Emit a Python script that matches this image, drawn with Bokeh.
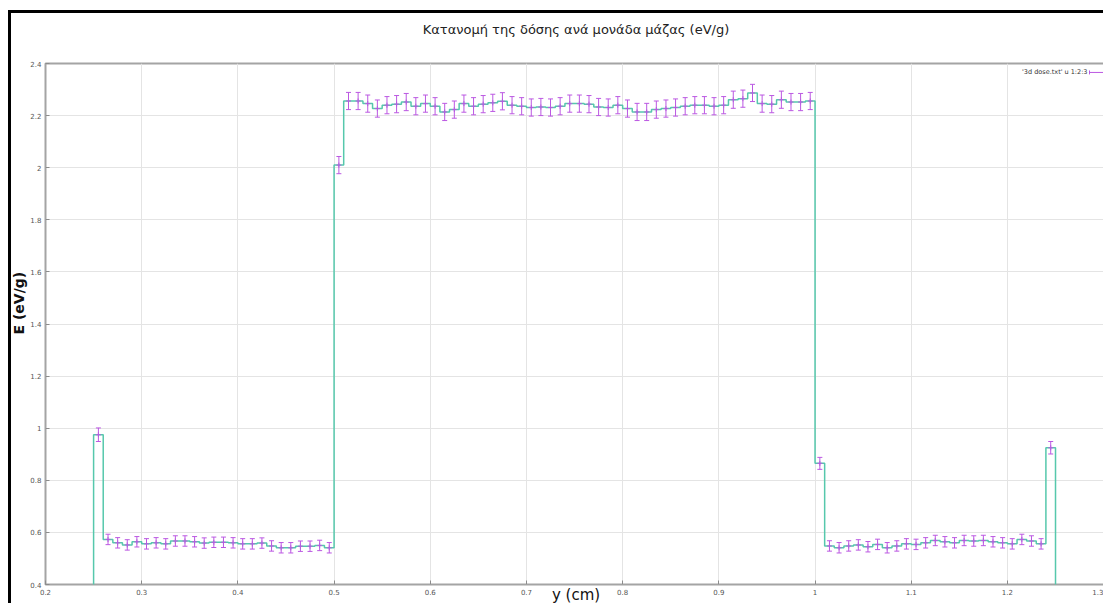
import numpy as np
from bokeh.plotting import figure
from bokeh.models import (Range1d, FixedTicker, CustomJSTickFormatter, Label,
                          Whisker, TeeHead, ColumnDataSource, Title)
from bokeh.embed import file_html
from bokeh.resources import INLINE

TITLE = "Κατανομή της δόσης ανά μονάδα μάζας (eV/g)"
X_LABEL = "y (cm)"
Y_LABEL = "E (eV/g)"
SERIES_LABEL = "'3d dose.txt' u 1:2:3"

x_ticks = [0.2, 0.3, 0.4, 0.5, 0.6, 0.7, 0.8, 0.9, 1.0, 1.1, 1.2, 1.3]
y_ticks = [0.4, 0.6, 0.8, 1.0, 1.2, 1.4, 1.6, 1.8, 2.0, 2.2, 2.4]

# bin centres (cm)
position_cm = [
    0.255,
    0.265, 0.275, 0.285, 0.295, 0.305, 0.315, 0.325, 0.335, 0.345, 0.355,
    0.365, 0.375, 0.385, 0.395, 0.405, 0.415, 0.425, 0.435, 0.445, 0.455,
    0.465, 0.475, 0.485, 0.495,
    0.505,
    0.515, 0.525, 0.535, 0.545, 0.555, 0.565, 0.575, 0.585, 0.595, 0.605,
    0.615, 0.625, 0.635, 0.645, 0.655, 0.665, 0.675, 0.685, 0.695, 0.705,
    0.715, 0.725, 0.735, 0.745, 0.755, 0.765, 0.775, 0.785, 0.795, 0.805,
    0.815, 0.825, 0.835, 0.845, 0.855, 0.865, 0.875, 0.885, 0.895, 0.905,
    0.915, 0.925, 0.935, 0.945, 0.955, 0.965, 0.975, 0.985, 0.995,
    1.005,
    1.015, 1.025, 1.035, 1.045, 1.055, 1.065, 1.075, 1.085, 1.095, 1.105,
    1.115, 1.125, 1.135, 1.145, 1.155, 1.165, 1.175, 1.185, 1.195, 1.205,
    1.215, 1.225, 1.235,
    1.245,
]

# dose per unit mass (eV/g)
dose = [
    0.975,
    0.573, 0.560, 0.552, 0.564, 0.556, 0.560, 0.556, 0.567, 0.567, 0.564,
    0.559, 0.562, 0.562, 0.560, 0.556, 0.556, 0.559, 0.548, 0.541, 0.541,
    0.547, 0.547, 0.550, 0.541,
    2.010,
    2.256, 2.256, 2.246, 2.227, 2.240, 2.244, 2.252, 2.236, 2.246, 2.236,
    2.214, 2.223, 2.246, 2.236, 2.244, 2.249, 2.255, 2.240, 2.236, 2.231,
    2.233, 2.231, 2.236, 2.246, 2.246, 2.244, 2.233, 2.231, 2.240, 2.227,
    2.214, 2.214, 2.223, 2.227, 2.231, 2.236, 2.240, 2.240, 2.236, 2.240,
    2.261, 2.265, 2.287, 2.246, 2.244, 2.261, 2.252, 2.252, 2.256,
    0.865,
    0.548, 0.541, 0.548, 0.552, 0.545, 0.554, 0.541, 0.548, 0.556, 0.554,
    0.560, 0.569, 0.564, 0.560, 0.569, 0.567, 0.569, 0.564, 0.560, 0.556,
    0.573, 0.567, 0.556,
    0.925,
]

# statistical uncertainty of each bin (eV/g)
dose_err = [
    0.026,
    0.020, 0.020, 0.020, 0.020, 0.020, 0.020, 0.020, 0.020, 0.020, 0.020,
    0.020, 0.020, 0.020, 0.020, 0.020, 0.020, 0.020, 0.020, 0.020, 0.020,
    0.020, 0.020, 0.020, 0.020,
    0.033,
    0.033, 0.033, 0.033, 0.033, 0.033, 0.033, 0.033, 0.033, 0.033, 0.033,
    0.033, 0.033, 0.033, 0.033, 0.033, 0.033, 0.033, 0.033, 0.033, 0.033,
    0.033, 0.033, 0.033, 0.033, 0.033, 0.033, 0.033, 0.033, 0.033, 0.033,
    0.033, 0.033, 0.033, 0.033, 0.033, 0.033, 0.033, 0.033, 0.033, 0.033,
    0.033, 0.033, 0.033, 0.033, 0.033, 0.033, 0.033, 0.033, 0.033,
    0.023,
    0.020, 0.020, 0.020, 0.020, 0.020, 0.020, 0.020, 0.020, 0.020, 0.020,
    0.020, 0.020, 0.020, 0.020, 0.020, 0.020, 0.020, 0.020, 0.020, 0.020,
    0.020, 0.020, 0.020,
    0.024,
]

ERR_COLOR = "#bb58e2"
STEP_COLOR = "#56c8ac"
FONT = "DejaVu Sans"

X_MIN, X_MAX = 0.2, 1.303
Y_MIN, Y_MAX = 0.4, 2.4

# page geometry (pixels)
FRAME_LEFT, FRAME_RIGHT = 45, 1106
FRAME_TOP, FRAME_BOTTOM = 63, 587
PX_X = (FRAME_RIGHT - FRAME_LEFT) / (X_MAX - X_MIN)
PX_Y = (FRAME_BOTTOM - FRAME_TOP) / (Y_MAX - Y_MIN)


def dx(px):
    return X_MIN + (px - FRAME_LEFT) / PX_X


def dy(py):
    return Y_MIN + (FRAME_BOTTOM - py) / PX_Y


x = np.array(position_cm)
y = np.array(dose)
e = np.array(dose_err)

# outer black frame of the window
OFF_L, OFF_T, BORDER = 8, 10, 3
W = 1106 - OFF_L - BORDER
H = 606 - OFF_T - BORDER

p = figure(width=W, height=H, output_backend="svg", toolbar_location=None,
           title_location=None,
           x_range=Range1d(X_MIN, X_MAX), y_range=Range1d(Y_MIN, Y_MAX),
           min_border_left=FRAME_LEFT - OFF_L - BORDER, min_border_right=0,
           min_border_top=FRAME_TOP - OFF_T - BORDER,
           min_border_bottom=606 - FRAME_BOTTOM)
p.styles = {"margin-left": f"{OFF_L}px", "margin-top": f"{OFF_T}px",
            "border-left": f"{BORDER}px solid black",
            "border-top": f"{BORDER}px solid black"}
p.background_fill_color = "white"
p.border_fill_color = "white"
p.outline_line_color = "#a4a4a4"
p.outline_line_width = 2

fmt = CustomJSTickFormatter(code="return String(Math.round(tick * 10) / 10);")
for ax in (p.xaxis[0], p.yaxis[0]):
    ax.axis_line_color = None
    ax.major_tick_in = 4
    ax.major_tick_out = 0
    ax.major_tick_line_color = "#8c8c8c"
    ax.minor_tick_line_color = None
    ax.major_label_text_font = FONT
    ax.major_label_text_font_size = "7px"
    ax.major_label_text_color = "#555555"
    ax.major_label_standoff = 4
    ax.formatter = fmt
p.xaxis[0].ticker = FixedTicker(ticks=x_ticks)
p.yaxis[0].ticker = FixedTicker(ticks=y_ticks)
p.grid.grid_line_color = "#e4e4e4"
p.grid.grid_line_width = 1

# x axis name tucked up between the tick labels
p.xaxis[0].axis_label = X_LABEL
p.xaxis[0].axis_label_text_font = FONT
p.xaxis[0].axis_label_text_font_size = "15px"
p.xaxis[0].axis_label_text_font_style = "normal"
p.xaxis[0].axis_label_text_color = "#111111"
p.xaxis[0].axis_label_standoff = -12

# histogram steps, closed down to the baseline at both ends
BASE = 0.0
mid = (x[1:] + x[:-1]) / 2
edges = np.concatenate([[x[0] - (x[1] - x[0]) / 2], mid,
                        [x[-1] + (x[-1] - x[-2]) / 2]])
step_x = np.repeat(edges, 2)
step_y = np.concatenate([[BASE], np.repeat(y, 2), [BASE]])
p.line(step_x, step_y, line_color=STEP_COLOR, line_width=1.5)

# error bars with point markers
src = ColumnDataSource(dict(x=x, y=y, lo=y - e, hi=y + e))
p.add_layout(Whisker(source=src, base="x", lower="lo", upper="hi",
                     line_color=ERR_COLOR, line_width=1,
                     lower_head=TeeHead(size=5, line_color=ERR_COLOR, line_width=1),
                     upper_head=TeeHead(size=5, line_color=ERR_COLOR, line_width=1)))
p.scatter("x", "y", source=src, marker="cross", size=5, line_color=ERR_COLOR,
          line_width=1)

# key in the upper right corner
key_y = dy(72)
key_x0, key_x1 = dx(1089), dx(1103)
cap = 2.0 / PX_Y
p.add_layout(Label(x=dx(1087), y=key_y, text=SERIES_LABEL, text_align="right",
                   text_baseline="middle", text_font=FONT, text_font_size="6.5px",
                   text_color="#333333"))
p.segment(x0=[key_x0, key_x0, key_x1], y0=[key_y, key_y - cap, key_y - cap],
          x1=[key_x1, key_x0, key_x1], y1=[key_y, key_y + cap, key_y + cap],
          line_color=ERR_COLOR, line_width=1)

# title: a blank spacer next to the frame, then the heading above it
p.add_layout(Title(text=" ", text_font_size="10px", standoff=13), "above")
p.add_layout(Title(text=TITLE, align="center", vertical_align="middle",
                   text_font=FONT, text_font_size="13px",
                   text_font_style="normal", text_color="#222222",
                   standoff=0), "above")

# y axis name
p.add_layout(Title(text=Y_LABEL, align="left", vertical_align="top", offset=250,
                   text_font=FONT, text_font_size="14px", text_font_style="bold",
                   text_color="#111111", standoff=-3), "left")

open("out.html", "w").write(file_html(p, INLINE))
